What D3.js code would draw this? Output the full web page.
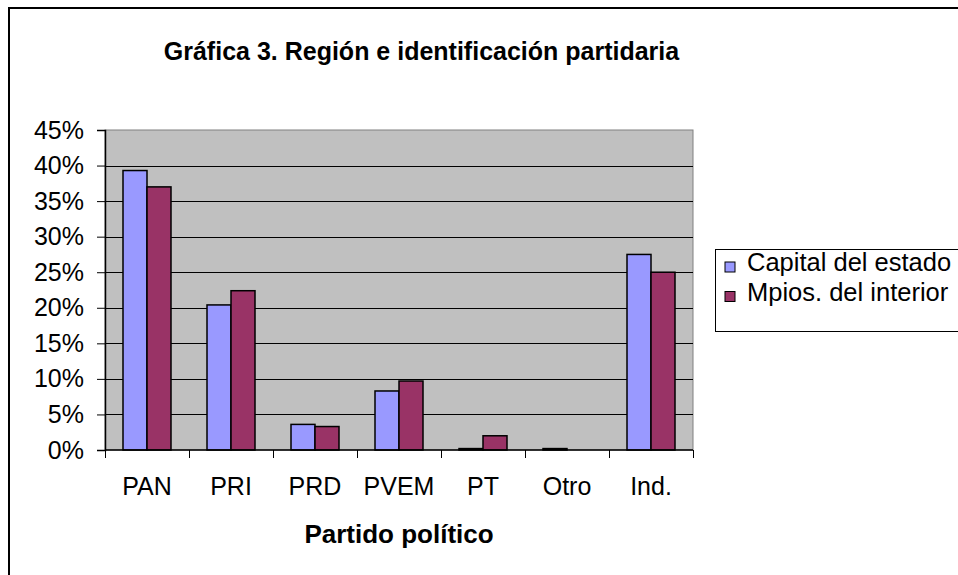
<!DOCTYPE html>
<html>
<head>
<meta charset="utf-8">
<script src="https://cdn.jsdelivr.net/npm/d3@7"></script>
<style>
  body { margin: 0; background: #fff; }
  text { font-family: Arial, "Liberation Sans", sans-serif; fill: #000; }
</style>
</head>
<body>
<script>
const categories = ['PAN', 'PRI', 'PRD', 'PVEM', 'PT', 'Otro', 'Ind.'];
const seriesNames = ['Capital del estado', 'Mpios. del interior'];
const capital = [39.3, 20.4, 3.6, 8.3, 0.2, 0.2, 27.5];
const mpios = [37.0, 22.4, 3.3, 9.7, 2.0, 0, 25.0];
const yTicks = [0, 5, 10, 15, 20, 25, 30, 35, 40, 45];
const colors = ['#9999FF', '#993366'];

const width = 958;
const height = 575;
const plot = { left: 105, right: 693, top: 130, bottom: 450 };

const rows = categories.map((c, i) => ({ cat: c, vals: [capital[i], mpios[i]] }));

const svg = d3.select('body').append('svg')
  .attr('width', width)
  .attr('height', height);

// outer chart border (runs off right and bottom)
svg.append('rect')
  .attr('x', 9).attr('y', 8)
  .attr('width', 1000).attr('height', 1000)
  .attr('fill', 'none')
  .attr('stroke', '#000')
  .attr('stroke-width', 2);

svg.append('text')
  .attr('x', 421.5).attr('y', 60)
  .attr('text-anchor', 'middle')
  .style('font-size', '25px')
  .style('font-weight', 'bold')
  .text('Gráfica 3. Región e identificación partidaria');

const x0 = d3.scaleBand().domain(categories).range([plot.left, plot.right]).padding(0);
const groupW = x0.bandwidth() * 2 / 3.5;
const x1 = d3.scaleBand().domain([0, 1]).range([0, groupW]).padding(0);
const y = d3.scaleLinear().domain([0, 45]).range([plot.bottom, plot.top]);

// plot background
svg.append('rect')
  .attr('x', plot.left).attr('y', plot.top)
  .attr('width', plot.right - plot.left).attr('height', plot.bottom - plot.top)
  .attr('fill', '#C0C0C0')
  .attr('stroke', '#808080')
  .attr('stroke-width', 1);

// gridlines
svg.append('g').selectAll('line')
  .data(yTicks.filter(t => t > 0 && t < 45))
  .enter().append('line')
  .attr('x1', plot.left).attr('x2', plot.right)
  .attr('y1', d => Math.round(y(d)) + 0.5).attr('y2', d => Math.round(y(d)) + 0.5)
  .attr('stroke', '#000')
  .attr('stroke-width', 1);

// bars
const groups = svg.append('g').selectAll('g')
  .data(rows)
  .enter().append('g')
  .attr('transform', d => 'translate(' + (x0(d.cat) + (x0.bandwidth() - groupW) / 2) + ',0)');

groups.selectAll('rect')
  .data(d => d.vals.map((v, i) => ({ v: v, i: i })))
  .enter().filter(d => d.v > 0).append('rect')
  .attr('x', d => x1(d.i))
  .attr('y', d => y(d.v))
  .attr('width', x1.bandwidth())
  .attr('height', d => y(0) - y(d.v))
  .attr('fill', d => colors[d.i])
  .attr('stroke', '#000')
  .attr('stroke-width', 1.5);

// y axis
const yAxis = svg.append('g')
  .attr('transform', 'translate(' + plot.left + ',0)')
  .call(d3.axisLeft(y).tickValues(yTicks).tickSize(8).tickPadding(13).tickFormat(d => d + '%'));
yAxis.select('.domain').attr('stroke', '#000').attr('stroke-width', 1.5);
yAxis.selectAll('.tick line').attr('stroke', '#000');
yAxis.selectAll('text').style('font-size', '25px').style('font-family', 'Arial, "Liberation Sans", sans-serif');

// x axis
const xAxis = svg.append('g')
  .attr('transform', 'translate(0,' + plot.bottom + ')')
  .call(d3.axisBottom(x0).tickSize(0).tickPadding(27));
xAxis.select('.domain').remove();
xAxis.selectAll('text').style('font-size', '25px').style('font-family', 'Arial, "Liberation Sans", sans-serif');

svg.append('line')
  .attr('x1', plot.left).attr('x2', plot.right)
  .attr('y1', plot.bottom).attr('y2', plot.bottom)
  .attr('stroke', '#000').attr('stroke-width', 1.5);

const bounds = categories.map(c => x0(c)).concat([plot.right]);
svg.append('g').selectAll('line')
  .data(bounds)
  .enter().append('line')
  .attr('x1', d => Math.round(d) + 0.5).attr('x2', d => Math.round(d) + 0.5)
  .attr('y1', plot.bottom).attr('y2', plot.bottom + 8)
  .attr('stroke', '#000');

svg.append('text')
  .attr('x', (plot.left + plot.right) / 2).attr('y', 543)
  .attr('text-anchor', 'middle')
  .style('font-size', '26px')
  .style('font-weight', 'bold')
  .text('Partido político');

// legend
const legend = svg.append('g');
legend.append('rect')
  .attr('x', 715.5).attr('y', 249.5)
  .attr('width', 300).attr('height', 82)
  .attr('fill', '#fff')
  .attr('stroke', '#000')
  .attr('stroke-width', 1);

const items = legend.selectAll('g.item')
  .data(seriesNames)
  .enter().append('g')
  .attr('class', 'item')
  .attr('transform', (d, i) => 'translate(725,' + (262 + i * 29.5) + ')');

items.append('rect')
  .attr('width', 10).attr('height', 10)
  .attr('fill', (d, i) => colors[i])
  .attr('stroke', '#000')
  .attr('stroke-width', 1);

items.append('text')
  .attr('x', 22).attr('y', 9)
  .style('font-size', '25.5px')
  .text(d => d);
</script>
</body>
</html>
